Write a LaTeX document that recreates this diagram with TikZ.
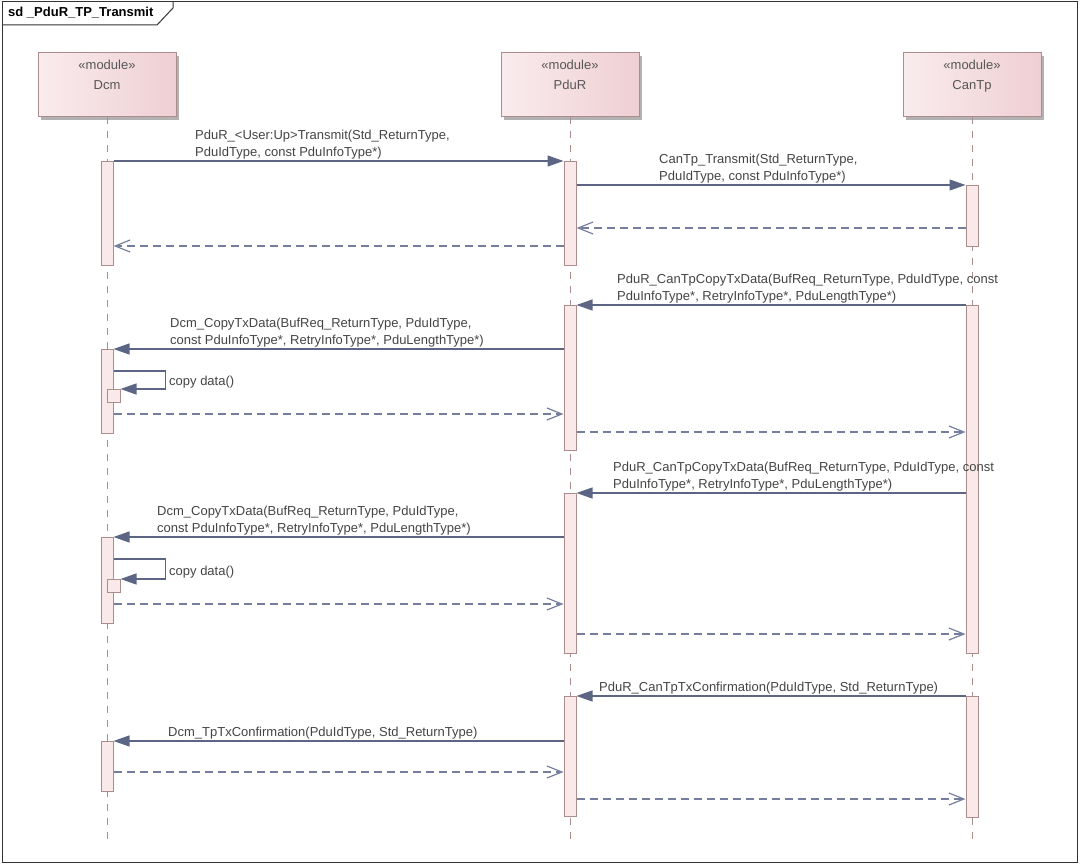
\documentclass[tikz,border=0pt]{standalone}
\usepackage{fontspec}
\setmainfont{Liberation Sans}
\usetikzlibrary{arrows.meta,shadows}

\definecolor{msgcol}{RGB}{92,102,132}
\definecolor{retcol}{RGB}{118,126,158}
\definecolor{barfill}{RGB}{249,233,233}
\definecolor{bardraw}{RGB}{172,140,140}
\definecolor{modleft}{RGB}{249,236,237}
\definecolor{modright}{RGB}{239,207,211}
\definecolor{txtcol}{RGB}{68,68,68}

\begin{document}
\begin{tikzpicture}[x=1pt, y=-1pt,
  every node/.style={font=\fontsize{13}{16.5}\selectfont, text=txtcol},
  modbox/.style={draw=bardraw, line width=1pt, left color=modleft, right color=modright,
    minimum width=138pt, minimum height=64pt, inner sep=0pt,
    drop shadow={shadow xshift=3pt, shadow yshift=-3pt, fill=black, opacity=0.3}},
  modtext/.style={align=center, inner sep=0pt, text=black!66,
    font=\fontsize{13}{20}\selectfont},
  actbar/.style={draw=bardraw, fill=barfill, line width=1pt, minimum width=12pt,
    inner sep=0pt, anchor=north},
  life/.style={draw=bardraw, line width=1pt, dash pattern=on 7pt off 7pt},
  call/.style={draw=msgcol, line width=1.2pt, -{Triangle[length=16pt,width=11pt]}},
  ret/.style={draw=retcol, line width=1.2pt, dash pattern=on 8pt off 5pt,
    -{Straight Barb[length=15pt,width=12pt]}},
  msglabel/.style={anchor=south west, align=left, inner sep=0pt}]

  \useasboundingbox (0,0) rectangle (1080,864);

  % ==================== 1. 外框与标题 ====================
  \draw[line width=1pt, black!80] (2,2) rectangle (1077,862);
  \draw[line width=1pt, black!80] (2,25) -- (157,25) -- (173,8) -- (173,2);
  \node[anchor=base west, inner sep=0pt, text=black, font=\fontsize{13}{16}\selectfont\bfseries]
    (title) at (8,17) {sd \_PduR\_TP\_Transmit};

  % ==================== 2. 模块与生命线 ====================
  \node[modbox] (dcm) at (107,85) {};
  \node[modbox] (pdur) at (570,85) {};
  \node[modbox] (cantp) at (972,85) {};
  \node[modtext] (dcmtxt) at (dcm.north |- 0,75) {«module»\\Dcm};
  \node[modtext] (pdurtxt) at (pdur.north |- 0,75) {«module»\\PduR};
  \node[modtext] (cantptxt) at (cantp.north |- 0,76) {«module»\\CanTp};

  \coordinate (lifeend) at (0,840);
  \draw[life] (dcm.south) -- (dcm.south |- lifeend);
  \draw[life] (pdur.south) -- (pdur.south |- lifeend);
  \draw[life] (cantp.south) -- (cantp.south |- lifeend);

  % ==================== 3. 激活条 ====================
  \node[actbar, minimum height=104pt] (dcmA1) at (107,161) {};
  \node[actbar, minimum height=104pt] (pdurA1) at (570,161) {};
  \node[actbar, minimum height=61pt] (cantpA1) at (972,185) {};
  \node[actbar, minimum height=145pt] (pdurA2) at (570,305) {};
  \node[actbar, minimum height=348pt] (cantpA2) at (972,305) {};
  \node[actbar, minimum height=84pt] (dcmA2) at (107,349) {};
  \node[actbar, minimum width=13pt, minimum height=13pt] (dcmS1) at (113.5,389) {};
  \node[actbar, minimum height=160pt] (pdurA3) at (570,493) {};
  \node[actbar, minimum height=86pt] (dcmA3) at (107,537) {};
  \node[actbar, minimum width=13pt, minimum height=13pt] (dcmS2) at (113.5,579) {};
  \node[actbar, minimum height=120pt] (pdurA4) at (570,696) {};
  \node[actbar, minimum height=121pt] (cantpA3) at (972,696) {};
  \node[actbar, minimum height=50pt] (dcmA4) at (107,741) {};

  % ==================== 4. 消息 ====================
  \coordinate (r1) at (0,228);
  \coordinate (r2) at (0,246);
  \coordinate (s1) at (0,371);
  \coordinate (r3) at (0,414);
  \coordinate (r4) at (0,432);
  \coordinate (s2) at (0,559);
  \coordinate (r5) at (0,604);
  \coordinate (r6) at (0,634);
  \coordinate (r7) at (0,772);
  \coordinate (r8) at (0,799);

  % 发送请求
  \draw[call] (dcmA1.north east) -- (pdurA1.north west);
  \draw[call] (pdurA1.east |- cantpA1.north) -- (cantpA1.north west);
  \draw[ret] (cantpA1.west |- r1) -- (pdurA1.east |- r1);
  \draw[ret] (pdurA1.west |- r2) -- (dcmA1.east |- r2);

  % 第一次拷贝
  \draw[call] (cantpA2.north west) -- (pdurA2.north east);
  \draw[call] (pdurA2.west |- dcmA2.north) -- (dcmA2.north east);
  \draw[call] (dcmA2.east |- s1) -- ++(52,0) |- (dcmS1.north east);
  \draw[ret] (dcmA2.east |- r3) -- (pdurA2.west |- r3);
  \draw[ret] (pdurA2.east |- r4) -- (cantpA2.west |- r4);

  % 第二次拷贝
  \draw[call] (cantpA2.west |- pdurA3.north) -- (pdurA3.north east);
  \draw[call] (pdurA3.west |- dcmA3.north) -- (dcmA3.north east);
  \draw[call] (dcmA3.east |- s2) -- ++(52,0) |- (dcmS2.north east);
  \draw[ret] (dcmA3.east |- r5) -- (pdurA3.west |- r5);
  \draw[ret] (pdurA3.east |- r6) -- (cantpA2.west |- r6);

  % 发送确认
  \draw[call] (cantpA3.north west) -- (pdurA4.north east);
  \draw[call] (pdurA4.west |- dcmA4.north) -- (dcmA4.north east);
  \draw[ret] (dcmA4.east |- r7) -- (pdurA4.west |- r7);
  \draw[ret] (pdurA4.east |- r8) -- (cantpA3.west |- r8);

  % ==================== 5. 消息标签 ====================
  \node[msglabel] (lbl1) at (195,159) {PduR\_<User:Up>Transmit(Std\_ReturnType,\\PduIdType, const PduInfoType*)};
  \node[msglabel] (lbl2) at (659,183) {CanTp\_Transmit(Std\_ReturnType,\\PduIdType, const PduInfoType*)};
  \node[msglabel] (lbl3) at (617,303) {PduR\_CanTpCopyTxData(BufReq\_ReturnType, PduIdType, const\\PduInfoType*, RetryInfoType*, PduLengthType*)};
  \node[msglabel] (lbl4) at (170,347) {Dcm\_CopyTxData(BufReq\_ReturnType, PduIdType,\\const PduInfoType*, RetryInfoType*, PduLengthType*)};
  \node[anchor=base west, inner sep=0pt] (cp1) at (169,385) {copy data()};
  \node[msglabel] (lbl5) at (613,491) {PduR\_CanTpCopyTxData(BufReq\_ReturnType, PduIdType, const\\PduInfoType*, RetryInfoType*, PduLengthType*)};
  \node[msglabel] (lbl6) at (157,535) {Dcm\_CopyTxData(BufReq\_ReturnType, PduIdType,\\const PduInfoType*, RetryInfoType*, PduLengthType*)};
  \node[anchor=base west, inner sep=0pt] (cp2) at (169,575) {copy data()};
  \node[msglabel] (lbl7) at (599,694) {PduR\_CanTpTxConfirmation(PduIdType, Std\_ReturnType)};
  \node[msglabel] (lbl8) at (168,739) {Dcm\_TpTxConfirmation(PduIdType, Std\_ReturnType)};

\end{tikzpicture}
\end{document}
